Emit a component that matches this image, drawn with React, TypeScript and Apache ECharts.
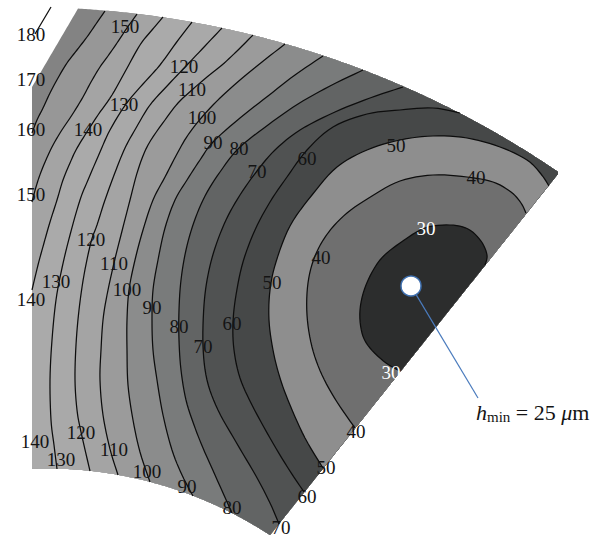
import React, { useEffect, useRef } from "react";
import * as echarts from "echarts";

// Film-thickness contour levels (μm)
const levels = [30, 40, 50, 60, 70, 80, 90, 100, 110, 120, 130, 140, 150, 160];

// Traced contour paths in the pad plane (x to the right, y downwards)
const c30 = [[485,265],[487,255],[481,241],[468,229],[450,225],[425,228],[400,243],[380,260],[366,285],[360,310],[362,333],[370,348],[386,363],[400,371]];
const c40 = [[526,213],[521,203],[511,192],[493,182],[467,177],[433,175],[400,181],[372,196],[347,213],[328,233],[315,256],[308,283],[307,315],[312,347],[322,375],[337,402],[355,428]];
const c50 = [[549,186],[541,174],[527,160],[500,147],[467,138],[433,136],[400,140],[367,150],[337,167],[312,195],[290,226],[276,262],[270,290],[269,320],[273,350],[280,378],[290,405],[305,438],[323,468]];
const c60 = [[460,113],[433,108],[400,110],[367,114],[333,127],[307,150],[287,177],[270,202],[255,230],[243,262],[236,295],[233,323],[234,350],[240,378],[252,405],[270,438],[288,468],[304,492]];
const c70 = [[403,87],[370,98],[335,112],[300,130],[275,150],[257,171],[240,195],[226,220],[215,248],[208,275],[204,305],[203,346],[207,380],[218,410],[236,442],[256,476],[270,503],[279,524]];
const c80 = [[363,70],[330,86],[298,104],[268,125],[239,148],[220,172],[205,196],[194,222],[186,250],[181,280],[179,310],[179,340],[181,370],[186,400],[194,425],[203,448],[215,475],[232,513]];
const c90 = [[323,56],[295,75],[268,96],[240,118],[213,142],[200,160],[187,180],[175,200],[165,228],[158,260],[153,290],[152,320],[153,350],[157,380],[163,415],[172,450],[182,475],[193,496]];
const c100 = [[285,44],[262,62],[240,80],[220,98],[202,117],[188,135],[178,152],[165,177],[153,200],[143,230],[135,260],[129,290],[127,320],[127,350],[128,385],[133,420],[140,452],[150,482]];
const c110 = [[253,35],[236,52],[222,65],[207,77],[193,89],[178,103],[165,120],[148,145],[138,170],[130,200],[121,235],[114,263],[107,295],[103,320],[101,350],[100,380],[103,415],[110,449],[118,475]];
const c120 = [[222,28],[205,46],[186,66],[168,85],[150,105],[136,128],[125,148],[116,170],[105,200],[97,225],[91,242],[84,275],[79,310],[76,345],[75,380],[77,410],[81,432],[90,471]];
const c130 = [[192,22],[176,43],[160,65],[143,84],[126,104],[110,130],[100,152],[88,180],[80,200],[70,235],[62,268],[56,300],[52,340],[50,380],[51,420],[54,445],[57,469]];
const c140 = [[163,17],[152,30],[140,45],[126,70],[112,95],[98,115],[85,135],[76,150],[70,163],[63,180],[57,200],[50,222],[44,243],[38,265],[32,290]];
const c150 = [[137,14],[127,28],[117,43],[108,56],[100,67],[91,82],[83,97],[72,115],[60,133],[50,151],[41,172],[36,187],[32,202]];
const c160 = [[105,11],[96,24],[87,37],[77,50],[67,63],[58,78],[50,93],[43,108],[37,120],[32,133]];
const c180Stub = [[51,7],[35,34]];

const contourPaths = [c30, c40, c50, c60, c70, c80, c90, c100, c110, c120, c130, c140, c150, c160];

// Fill of the band just below each level, plus the band above the last level
const bandColors = ["#2c2d2d", "#6f6f6f", "#8e8e8e", "#464848", "#505252", "#626464", "#797b7b", "#8b8c8c", "#9b9b9b", "#a4a4a4", "#a9a9a9", "#aaaaaa", "#a4a4a4", "#979797"];
const topBandColor = "#838383";

// Contour labels: [value, x, y]
const contourLabels = [
  [180,31,34],[170,31,79],[160,31,129],[150,31,194],[140,31,299],
  [150,125,26],[140,88,129],[130,124,104],[120,184,66],[110,192,89],[100,202,117],[90,213,142],[80,239,148],[70,257,171],[60,307,158],[50,396,145],[40,476,177],[30,426,228],
  [120,91,239],[130,56,281],[110,114,263],[100,127,289],[90,152,307],[80,179,326],[70,203,346],[60,232,323],[50,272,282],[40,321,257],[30,391,372],
  [140,35,441],[130,61,459],[120,81,432],[110,114,449],[100,147,471],[90,187,486],[80,232,507],[70,281,527],[60,307,496],[50,326,467],[40,356,431],
];

// Minimum film thickness
const hMin = 25;
const minPoint = [411, 286];
const minLabelAnchor = [478, 398];

// Pad outline geometry (pad plane)
const outerArc = { cx: 23, cy: 957, r: 950, xStart: 78, xEnd: 559 };
const innerArc = { cx: 46.5, cy: 877, r: 408.5, xStart: 270, xEnd: 32 };
const leftEdgeTopY = 87;

type P = number[];

function arcY(a: { cx: number; cy: number; r: number }, x: number) {
  return a.cy - Math.sqrt(a.r * a.r - (x - a.cx) * (x - a.cx));
}

function pushLine(out: P[], a: P, b: P) {
  const len = Math.hypot(b[0] - a[0], b[1] - a[1]);
  const n = Math.max(2, Math.ceil(len / 2));
  for (let i = 1; i < n; i++) {
    const t = i / n;
    out.push([a[0] + (b[0] - a[0]) * t, a[1] + (b[1] - a[1]) * t]);
  }
}

function buildOutline(): P[] {
  const pts: P[] = [];
  for (let x = outerArc.xStart; x <= outerArc.xEnd; x += 2) pts.push([x, arcY(outerArc, x)]);
  const tr = [outerArc.xEnd, arcY(outerArc, outerArc.xEnd)];
  const br = [innerArc.xStart, arcY(innerArc, innerArc.xStart)];
  pushLine(pts, tr, br);
  for (let x = innerArc.xStart; x >= innerArc.xEnd; x -= 2) pts.push([x, arcY(innerArc, x)]);
  const bl = [innerArc.xEnd, arcY(innerArc, innerArc.xEnd)];
  const tl = [innerArc.xEnd, leftEdgeTopY];
  pushLine(pts, bl, tl);
  pts.push(tl);
  pushLine(pts, tl, [outerArc.xStart, arcY(outerArc, outerArc.xStart)]);
  return pts;
}

function smooth(pts: P[], seg = 6): P[] {
  if (pts.length < 3) return pts.slice();
  const out: P[] = [];
  for (let i = 0; i < pts.length - 1; i++) {
    const p0 = pts[i - 1] || pts[i];
    const p1 = pts[i];
    const p2 = pts[i + 1];
    const p3 = pts[i + 2] || pts[i + 1];
    for (let k = 0; k < seg; k++) {
      const t = k / seg, t2 = t * t, t3 = t2 * t;
      const f = (a: number, b: number, c: number, d: number) =>
        0.5 * (2 * b + (-a + c) * t + (2 * a - 5 * b + 4 * c - d) * t2 + (-a + 3 * b - 3 * c + d) * t3);
      out.push([f(p0[0], p1[0], p2[0], p3[0]), f(p0[1], p1[1], p2[1], p3[1])]);
    }
  }
  out.push(pts[pts.length - 1]);
  return out;
}

function nearestIdx(B: P[], p: P) {
  let best = 0, bd = Infinity;
  for (let i = 0; i < B.length; i++) {
    const d = (B[i][0] - p[0]) ** 2 + (B[i][1] - p[1]) ** 2;
    if (d < bd) { bd = d; best = i; }
  }
  return best;
}

function lowRegion(C: P[], B: P[], ref: P): P[] {
  const N = B.length;
  const iA = nearestIdx(B, C[0]);
  const iB = nearestIdx(B, C[C.length - 1]);
  const iR = nearestIdx(B, ref);
  const fwd = (iA - iB + N) % N;
  const refOff = (iR - iB + N) % N;
  const path: P[] = [];
  if (refOff <= fwd) {
    for (let k = 0; k <= fwd; k++) path.push(B[(iB + k) % N]);
  } else {
    const bwd = (iB - iA + N) % N;
    for (let k = 0; k <= bwd; k++) path.push(B[(iB - k + N) % N]);
  }
  return C.concat(path);
}

export default function App() {
  const ref = useRef<HTMLDivElement>(null);
  useEffect(() => {
    if (!ref.current) return;
    const chart = echarts.init(ref.current, undefined, { renderer: "svg" });

    const outline = buildOutline();
    const smoothed = contourPaths.map((c) => smooth(c));
    const fills: { pts: P[]; color: string }[] = [{ pts: outline, color: topBandColor }];
    for (let i = levels.length - 1; i >= 0; i--) {
      fills.push({ pts: lowRegion(smoothed[i], outline, minPoint), color: bandColors[i] });
    }
    const lines = smoothed.concat([c180Stub]);
    const font = '19px "Liberation Serif", "DejaVu Serif", serif';

    chart.setOption({
      animation: false,
      backgroundColor: "#ffffff",
      grid: { left: 0, right: 0, top: 0, bottom: 0 },
      xAxis: { type: "value", min: 0, max: 604, show: false },
      yAxis: { type: "value", min: 0, max: 539, inverse: true, show: false },
      series: [
        {
          type: "custom",
          clip: false,
          z: 1,
          data: fills.map((_, i) => [0, 0, i]),
          renderItem: (_p: any, api: any) => {
            const f = fills[api.value(2)];
            return {
              type: "polygon",
              z2: api.value(2),
              shape: { points: f.pts.map((p) => api.coord(p)) },
              style: { fill: f.color },
              silent: true,
            };
          },
        },
        {
          type: "custom",
          clip: false,
          z: 2,
          data: lines.map((_, i) => [0, 0, i]),
          renderItem: (_p: any, api: any) => {
            const l = lines[api.value(2)];
            return {
              type: "polyline",
              shape: { points: l.map((p) => api.coord(p)) },
              style: { stroke: "#0d0d0d", lineWidth: 1.25, fill: "none" },
              silent: true,
            };
          },
        },
        {
          type: "custom",
          clip: false,
          z: 3,
          data: contourLabels,
          renderItem: (_p: any, api: any) => {
            const v = api.value(0);
            const pt = api.coord([api.value(1), api.value(2)]);
            return {
              type: "text",
              x: pt[0],
              y: pt[1],
              style: {
                text: String(v),
                fill: v === 30 ? "#ffffff" : "#141414",
                font,
                align: "center",
                verticalAlign: "middle",
              },
              silent: true,
            };
          },
        },
        {
          type: "custom",
          clip: false,
          z: 4,
          data: [[minPoint[0], minPoint[1], minLabelAnchor[0], minLabelAnchor[1], hMin]],
          renderItem: (_p: any, api: any) => {
            const c = api.coord([api.value(0), api.value(1)]);
            const a = api.coord([api.value(2), api.value(3)]);
            const dx = a[0] - c[0], dy = a[1] - c[1];
            const d = Math.hypot(dx, dy);
            const r = 10;
            return {
              type: "group",
              children: [
                {
                  type: "line",
                  shape: { x1: c[0] + (dx / d) * r, y1: c[1] + (dy / d) * r, x2: a[0], y2: a[1] },
                  style: { stroke: "#4a7bbd", lineWidth: 1.2 },
                },
                {
                  type: "circle",
                  shape: { cx: c[0], cy: c[1], r },
                  style: { fill: "#ffffff", stroke: "#3f70b0", lineWidth: 1.5 },
                },
                {
                  type: "text",
                  x: a[0] - 2,
                  y: a[1] + 14,
                  style: {
                    text: "{h|h}{s|min}{t| = " + api.value(4) + " }{u|μ}{t|m}",
                    align: "left",
                    verticalAlign: "middle",
                    fill: "#141414",
                    font: '22px "Liberation Serif", serif',
                    rich: {
                      h: { fontStyle: "italic", fontSize: 22, fontFamily: "Liberation Serif", lineHeight: 24, fill: "#141414" },
                      s: { fontSize: 15, fontFamily: "Liberation Serif", lineHeight: 15, verticalAlign: "bottom", fill: "#141414" },
                      t: { fontSize: 22, fontFamily: "Liberation Serif", lineHeight: 24, fill: "#141414" },
                      u: { fontStyle: "italic", fontSize: 22, fontFamily: "Liberation Serif", lineHeight: 24, fill: "#141414" },
                    },
                  },
                },
              ],
            };
          },
        },
      ],
    });
    return () => chart.dispose();
  }, []);
  return (
    <div
      ref={ref}
      style={{ position: "absolute", left: 0, top: 0, width: 604, height: 539 }}
    />
  );
}
